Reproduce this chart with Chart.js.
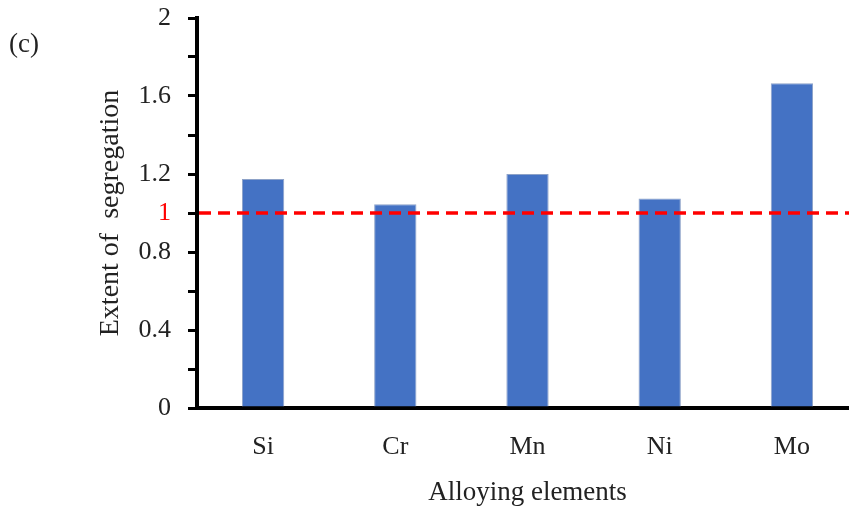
<!DOCTYPE html>
<html>
<head>
<meta charset="utf-8">
<script src="https://cdn.jsdelivr.net/npm/chart.js@4"></script>
<style>
  html, body { margin: 0; padding: 0; background: #fff; overflow: hidden; }
  #wrap { position: relative; width: 849px; height: 510px; overflow: hidden; }
  #panel { position: absolute; left: 9px; top: 28px; font: 27px "Liberation Serif", serif; color: #222; }
</style>
</head>
<body>
<div id="wrap">
  <canvas id="barChart" width="858" height="510"></canvas>
  <div id="panel">(c)</div>
</div>
<script>
const elements = ['Si', 'Cr', 'Mn', 'Ni', 'Mo']
const segregation = [1.175, 1.045, 1.2, 1.075, 1.665]
const yLabelled = [0, 0.4, 0.8, 1, 1.2, 1.6, 2]
const refLevel = 1

const serif = '"Liberation Serif", "Times New Roman", serif'

// red dashed reference line at extent = 1
const refLine = {
    id: 'refLine',
    afterDatasetsDraw(chart) {
        const { ctx, chartArea, scales } = chart
        const y = scales.y.getPixelForValue(refLevel)
        ctx.save()
        ctx.strokeStyle = '#ff0000'
        ctx.lineWidth = 3.5
        ctx.setLineDash([12, 7])
        ctx.beginPath()
        ctx.moveTo(chartArea.left + 2, y)
        ctx.lineTo(chartArea.right, y)
        ctx.stroke()
        ctx.restore()
    }
}

let MyChart = document.getElementById('barChart').getContext('2d')

let segChart = new Chart(MyChart, {
    type: 'bar',
    data: {
        labels: elements,
        datasets: [{
            label: 'Extent of segregation',
            data: segregation,
            backgroundColor: '#4472c4',
            borderColor: '#8da2c8',
            borderWidth: 1,
            categoryPercentage: 1,
            barPercentage: 0.32
        }]
    },
    options: {
        responsive: false,
        animation: false,
        layout: { padding: { top: 18, right: 0, left: 0, bottom: 0 } },
        plugins: {
            legend: { display: false },
            tooltip: { enabled: false }
        },
        scales: {
            x: {
                grid: { display: false, drawTicks: false },
                border: { color: '#000', width: 4 },
                ticks: { color: '#222', padding: 24, font: { family: serif, size: 26 } },
                title: {
                    display: true,
                    text: 'Alloying elements',
                    color: '#222',
                    font: { family: serif, size: 27 },
                    padding: { top: 0, bottom: 1 }
                },
                afterFit(scale) { scale.height = 102 }
            },
            y: {
                min: 0,
                max: 2,
                ticks: {
                    stepSize: 0.2,
                    padding: 17,
                    autoSkip: false,
                    font: { family: serif, size: 26 },
                    color: ctx => Math.abs(ctx.tick.value - refLevel) < 1e-6 ? '#ff0000' : '#222',
                    callback: function (v) {
                        const hit = yLabelled.find(t => Math.abs(t - v) < 1e-6)
                        return hit === undefined ? '' : String(hit)
                    }
                },
                grid: {
                    drawOnChartArea: false,
                    color: '#000',
                    lineWidth: 3,
                    tickLength: 9
                },
                border: { color: '#000', width: 4 },
                title: {
                    display: true,
                    text: 'Extent of  segregation',
                    color: '#222',
                    font: { family: serif, size: 28 },
                    padding: { top: 94, bottom: 0 }
                },
                afterFit(scale) {
                    scale.width = 197
                    scale.paddingTop = 0
                    scale.paddingBottom = 0
                }
            }
        }
    },
    plugins: [refLine]
})
</script>
</body>
</html>
